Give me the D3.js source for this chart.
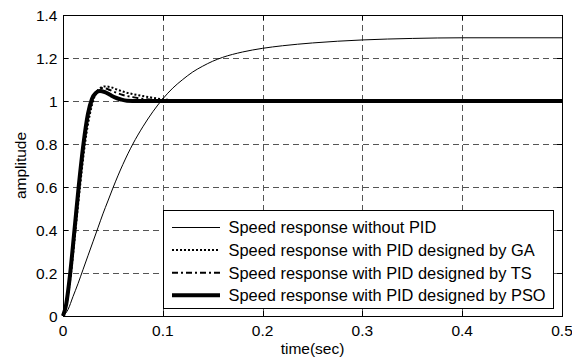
<!DOCTYPE html>
<html>
<head>
<meta charset="utf-8">
<script src="https://cdn.jsdelivr.net/npm/d3@7"></script>
<style>
  html, body { margin: 0; padding: 0; background: #fff; }
  svg { display: block; font-family: "Liberation Sans", Arial, Helvetica, sans-serif; }
</style>
</head>
<body>
<svg id="chart" width="572" height="362"></svg>
<script>
// Step responses of the speed loop: time (s), amplitude
const noPid = [[0,0],[0.005,0.03],[0.01,0.09],[0.015,0.15],[0.02,0.215],[0.025,0.28],[0.03,0.345],[0.035,0.41],[0.04,0.475],[0.045,0.535],[0.05,0.595],[0.06,0.705],[0.07,0.8],[0.08,0.88],[0.09,0.95],[0.1,1.01],[0.11,1.06],[0.12,1.1],[0.13,1.135],[0.14,1.162],[0.15,1.185],[0.16,1.203],[0.18,1.228],[0.2,1.245],[0.22,1.257],[0.25,1.27],[0.3,1.284],[0.35,1.291],[0.4,1.294],[0.5,1.294]];
const pidGA = [[0,0],[0.004,0.07],[0.008,0.2],[0.0125,0.4],[0.017,0.6],[0.022,0.8],[0.027,0.94],[0.032,1.025],[0.037,1.058],[0.042,1.068],[0.048,1.064],[0.055,1.052],[0.062,1.041],[0.07,1.032],[0.08,1.023],[0.09,1.015],[0.1,1.008],[0.11,1.004],[0.12,1.003],[0.134,1.003]];
const pidTS = [[0,0],[0.004,0.07],[0.0075,0.2],[0.012,0.4],[0.0163,0.6],[0.0212,0.8],[0.026,0.94],[0.031,1.02],[0.035,1.05],[0.04,1.06],[0.045,1.055],[0.05,1.045],[0.06,1.028],[0.07,1.018],[0.08,1.01],[0.09,1.005],[0.1,1.0],[0.134,0.997]];
const pidPSO = [[0,0],[0.003,0.05],[0.007,0.19],[0.0115,0.4],[0.0157,0.6],[0.0205,0.8],[0.025,0.94],[0.029,1.01],[0.033,1.038],[0.037,1.047],[0.042,1.041],[0.047,1.029],[0.052,1.017],[0.058,1.007],[0.064,1.001],[0.075,1.0],[0.5,1.0]];

const xTicks = [0, 0.1, 0.2, 0.3, 0.4, 0.5];
const yTicks = [0, 0.2, 0.4, 0.6, 0.8, 1.0, 1.2, 1.4];
const legendLabels = [
  "Speed response without PID",
  "Speed response with PID designed by GA",
  "Speed response with PID designed by TS",
  "Speed response with PID designed by PSO"
];

const svg = d3.select("#chart");
const x = d3.scaleLinear().domain([0, 0.5]).range([63, 562]);
const y = d3.scaleLinear().domain([0, 1.4]).range([316, 15]);

// white axes background
svg.append("rect").attr("x", x(0)).attr("y", y(1.4))
  .attr("width", x(0.5) - x(0)).attr("height", y(0) - y(1.4)).attr("fill", "#fff");

// dashed grid
const grid = svg.append("g").attr("stroke", "#555").attr("stroke-width", 1)
  .attr("stroke-dasharray", "6,4").attr("shape-rendering", "crispEdges");
grid.selectAll("line.vx").data(xTicks.slice(1, -1)).join("line")
  .attr("x1", d => Math.round(x(d)) + 0.5).attr("x2", d => Math.round(x(d)) + 0.5)
  .attr("y1", y(1.4)).attr("y2", y(0));
grid.selectAll("line.hy").data(yTicks.slice(1, -1)).join("line")
  .attr("y1", d => Math.round(y(d)) + 0.5).attr("y2", d => Math.round(y(d)) + 0.5)
  .attr("x1", x(0)).attr("x2", x(0.5));

// inward tick marks on all four sides
const ticks = svg.append("g").attr("stroke", "#000").attr("stroke-width", 1).attr("shape-rendering", "crispEdges");
xTicks.forEach(t => {
  const px = Math.round(x(t)) + 0.5;
  ticks.append("line").attr("x1", px).attr("x2", px).attr("y1", y(0)).attr("y2", y(0) - 5);
  ticks.append("line").attr("x1", px).attr("x2", px).attr("y1", y(1.4)).attr("y2", y(1.4) + 5);
});
yTicks.forEach(t => {
  const py = Math.round(y(t)) + 0.5;
  ticks.append("line").attr("y1", py).attr("y2", py).attr("x1", x(0)).attr("x2", x(0) + 5);
  ticks.append("line").attr("y1", py).attr("y2", py).attr("x1", x(0.5)).attr("x2", x(0.5) - 5);
});

// series
const line = d3.line().x(d => x(d[0])).y(d => y(d[1])).curve(d3.curveMonotoneX);
const series = [
  { data: noPid, width: 1, dash: null },
  { data: pidPSO, width: 4, dash: null },
  { data: pidTS, width: 2, dash: "6,3,2,3" },
  { data: pidGA, width: 2, dash: "2,2" }
];
const plot = svg.append("g");
series.forEach(s => {
  plot.append("path").attr("d", line(s.data)).attr("fill", "none")
    .attr("stroke", "#000").attr("stroke-width", s.width)
    .attr("stroke-dasharray", s.dash).attr("stroke-linejoin", "round");
});

// axes box
svg.append("rect").attr("x", Math.round(x(0)) + 0.5).attr("y", Math.round(y(1.4)) + 0.5)
  .attr("width", Math.round(x(0.5)) - Math.round(x(0))).attr("height", Math.round(y(0)) - Math.round(y(1.4)))
  .attr("fill", "none").attr("stroke", "#000").attr("stroke-width", 1).attr("shape-rendering", "crispEdges");

// tick labels
const fmt = d => String(+d.toFixed(1));
svg.append("g").selectAll("text").data(xTicks).join("text")
  .attr("x", d => x(d)).attr("y", 335.5).attr("text-anchor", "middle")
  .attr("font-size", 15.5).text(fmt);
svg.append("g").selectAll("text").data(yTicks).join("text")
  .attr("x", 57.5).attr("y", d => y(d)).attr("dy", "0.36em").attr("text-anchor", "end")
  .attr("font-size", 15.5).text(fmt);

// axis titles
svg.append("text").attr("x", (x(0) + x(0.5)) / 2).attr("y", 353.5).attr("text-anchor", "middle")
  .attr("font-size", 15.5).text("time(sec)");
svg.append("text").attr("transform", `translate(25.5,${(y(0) + y(1.4)) / 2}) rotate(-90)`)
  .attr("text-anchor", "middle").attr("font-size", 15.5).text("amplitude");

// legend
const lg = svg.append("g");
lg.append("rect").attr("x", 163.5).attr("y", 210.5).attr("width", 390).attr("height", 98)
  .attr("fill", "#fff").attr("stroke", "#000").attr("stroke-width", 1).attr("shape-rendering", "crispEdges");
const legendStyles = [series[0], series[3], series[2], series[1]];
legendLabels.forEach((label, i) => {
  const cy = 227.5 + i * 22.6;
  const s = legendStyles[i];
  lg.append("line").attr("x1", 172).attr("x2", 220).attr("y1", cy).attr("y2", cy)
    .attr("stroke", "#000").attr("stroke-width", s.width).attr("stroke-dasharray", s.dash);
  lg.append("text").attr("x", 228.5).attr("y", cy).attr("dy", "0.36em")
    .attr("font-size", 16.4).text(label);
});
</script>
</body>
</html>
